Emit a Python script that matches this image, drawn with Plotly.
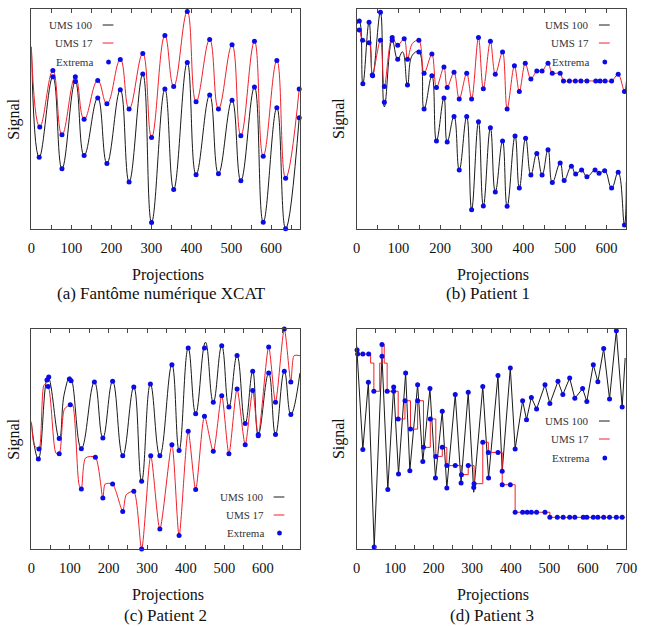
import plotly.graph_objects as go

W, H = 651, 626
FONT = "Liberation Serif, DejaVu Serif, serif"
BLACK = "#1a1a1a"
RED = "#f0202a"
BLUE = "#0b0be6"
AXIS = "#444444"

# ---------------- Panel (a) Fantôme numérique XCAT ----------------
A_BLACK_X = [0, 19.6, 53.8, 76.6, 110, 132, 166, 189, 222.5, 244.5, 278.7, 300.7, 334, 356, 390, 412, 446, 468, 502, 524, 558, 580, 614, 636, 670]
A_BLACK_Y = [82.8, 32.6, 69.2, 27.4, 67.1, 33.4, 59.6, 29.8, 63.3, 21.4, 70.4, 3.0, 63.6, 18.0, 75.7, 24.7, 60.9, 25.1, 58.5, 21.9, 64.5, 3.1, 55.1, 0.1, 50.6]
A_RED_X = [0, 21, 53.8, 76.6, 110, 132, 166, 189, 222.5, 244.5, 278.7, 300.7, 334, 356, 390, 412, 446, 468, 502, 524, 558, 580, 614, 636, 670]
A_RED_Y = [82.8, 46.4, 72.0, 42.8, 69.2, 49.9, 67.5, 56.9, 77.1, 54.6, 79.8, 41.6, 88.0, 64.8, 98.9, 57.8, 86.1, 54.6, 83.7, 42.4, 85.3, 33.1, 76.6, 23.1, 63.6]
A_EXT_X = [19.6, 53.8, 76.6, 110, 132, 166, 189, 222.5, 244.5, 278.7, 300.7, 334, 356, 390, 412, 446, 468, 502, 524, 558, 580, 614, 636, 670,
           21, 53.8, 76.6, 110, 132, 166, 189, 222.5, 244.5, 278.7, 300.7, 334, 356, 390, 412, 446, 468, 502, 524, 558, 580, 614, 636, 670]
A_EXT_Y = [32.6, 69.2, 27.4, 67.1, 33.4, 59.6, 29.8, 63.3, 21.4, 70.4, 3.0, 63.6, 18.0, 75.7, 24.7, 60.9, 25.1, 58.5, 21.9, 64.5, 3.1, 55.1, 0.1, 50.6,
           46.4, 72.0, 42.8, 69.2, 49.9, 67.5, 56.9, 77.1, 54.6, 79.8, 41.6, 88.0, 64.8, 98.9, 57.8, 86.1, 54.6, 83.7, 42.4, 85.3, 33.1, 76.6, 23.1, 63.6]

# ---------------- Panel (b) Patient 1 ----------------
B_BLACK_X = [0, 6.3, 14.8, 29.7, 38.3, 57, 66.4, 85.2, 98.4, 110, 121.9, 133.6, 149.2, 161.7, 180.5, 191.4, 209.4, 217.2, 233.6, 246.1,
             264, 275.8, 292.2, 303.9, 320.8, 332.6, 350, 361, 380, 390.3, 405.3, 418, 432.2, 444.9, 459.1, 469.4, 488.3, 497.8, 515.2, 525.5,
             539.7, 552.4, 572, 581.6, 595, 611.7, 627.5, 642.5, 647]
B_BLACK_Y = [93, 94.5, 66.0, 94.0, 69.7, 98.5, 55.5, 85.8, 77.2, 80.5, 65.5, 79.0, 80.5, 54.6, 69.7, 40.0, 59.5, 39.6, 51.1, 26.8,
             51.1, 8.8, 48.7, 10.5, 46.0, 16.8, 40.0, 10.3, 42.3, 18.6, 41.2, 24.6, 34.3, 24.6, 36.0, 21.1, 30.0, 22.0, 28.5, 25.0,
             26.8, 23.8, 26.8, 25.3, 26.5, 18.6, 25.8, 1.8, 21.3]
B_RED_X = [0, 6.3, 14.1, 29.7, 37.5, 57, 66.4, 85.2, 98.4, 114, 121.9, 133.6, 149.2, 161.7, 180.5, 191.4, 209.4, 217.2, 233.6, 246.1,
           264, 275.8, 292.2, 303.9, 320.8, 332.6, 350, 361, 378.5, 390.3, 404.5, 418, 432.2, 444.9, 459.1, 469.4, 488.3, 496.2, 510.5, 524.7,
           538, 552.4, 573.7, 584, 596, 611.7, 627.5, 642.5, 647]
B_RED_Y = [91, 90.4, 85.8, 84.7, 70.0, 85.8, 64.8, 87.0, 83.5, 86.5, 77.2, 84.3, 85.8, 70.8, 79.5, 64.3, 73.6, 64.3, 71.2, 59.1,
           70.8, 59.1, 87.0, 63.7, 85.3, 70.3, 80.5, 54.6, 74.2, 62.5, 75.3, 68.2, 71.8, 71.8, 75.3, 70.8, 70.8, 67.3, 67.3, 67.3,
           67.3, 67.3, 67.3, 67.3, 67.3, 67.3, 70.3, 62.5, 67.0]
B_EXT_X = [6.3, 14.8, 29.7, 38.3, 57, 66.4, 85.2, 98.4, 121.9, 149.2, 161.7, 180.5, 191.4, 209.4, 217.2, 233.6, 246.1, 264, 275.8, 292.2,
           303.9, 320.8, 332.6, 350, 361, 380, 390.3, 405.3, 418, 432.2, 444.9, 459.1, 469.4, 488.3, 497.8, 515.2, 525.5, 539.7, 552.4, 572,
           581.6, 595, 611.7, 627.5, 642.5,
           6.3, 14.1, 29.7, 37.5, 57, 66.4, 85.2, 98.4, 114, 121.9, 149.2, 161.7, 180.5, 191.4, 209.4, 217.2, 233.6, 246.1, 264, 275.8,
           292.2, 303.9, 320.8, 332.6, 350, 361, 378.5, 390.3, 404.5, 418, 432.2, 444.9, 459.1, 469.4, 488.3, 496.2, 510.5, 524.7, 538, 552.4,
           573.7, 584, 596, 611.7, 627.5, 642.5]
B_EXT_Y = [94.5, 66.0, 94.0, 69.7, 98.5, 57.6, 85.8, 77.2, 65.5, 80.5, 54.6, 69.7, 40.0, 59.5, 39.6, 51.1, 26.8, 51.1, 8.8, 48.7,
           10.5, 46.0, 16.8, 40.0, 10.3, 42.3, 18.6, 41.2, 24.6, 34.3, 24.6, 36.0, 21.1, 30.0, 22.0, 28.5, 25.0, 26.8, 23.8, 26.8,
           25.3, 26.5, 18.6, 25.8, 1.8,
           90.4, 85.8, 84.7, 70.0, 85.8, 64.8, 87.0, 83.5, 86.5, 77.2, 85.8, 70.8, 79.5, 64.3, 73.6, 64.3, 71.2, 59.1, 70.8, 59.1,
           87.0, 63.7, 85.3, 70.3, 80.5, 54.6, 74.2, 62.5, 75.3, 68.2, 71.8, 71.8, 75.3, 70.8, 70.8, 67.3, 67.3, 67.3, 67.3, 67.3,
           67.3, 67.3, 67.3, 67.3, 70.3, 62.5]

# ---------------- Panel (c) Patient 2 ----------------
C_BLACK_X = [0, 18.1, 43, 72.2, 85.7, 100.8, 129.5, 163.3, 185.2, 210.5, 236.7, 265.4, 285.7, 308.4, 332.9, 364.1, 382.7, 406.3, 425.7, 451,
             471.3, 493.2, 511.8, 532.9, 554, 573.4, 587.8, 614.8, 632.5, 655.3, 672.2, 695.8]
C_BLACK_Y = [57.3, 40.9, 78.2, 50.2, 70.9, 78.2, 45.6, 75.9, 50.5, 76.2, 42.4, 73.6, 30.8, 75.0, 42.4, 83.8, 44.8, 91.4, 61.5, 94.0,
             66.7, 92.4, 64.5, 87.9, 57.0, 80.8, 52.0, 80.0, 52.0, 80.8, 61.1, 80.0]
C_RED_X = [0, 8, 19.8, 33.3, 43.5, 63.7, 72.2, 85.7, 100.8, 106.8, 123.6, 129.5, 140.5, 165.8, 185.2, 191.1, 210.5, 236.7, 246, 265.4,
           285.7, 309.3, 332.9, 364.1, 382.7, 406.3, 425.7, 448.5, 471.3, 493.2, 511.8, 532.9, 554, 573.4, 587.8, 614.8, 632.5, 655.3, 672.2, 680.7,
           695.8]
C_RED_Y = [58.0, 47.0, 45.5, 74.7, 73.9, 43.6, 43.3, 63.6, 65.6, 65.6, 29.2, 27.3, 41.4, 41.7, 23.2, 29.5, 29.5, 17.1, 24.7, 26.2,
           0, 42.4, 9.1, 47.4, 6.1, 53.5, 27.0, 60.3, 44.4, 69.7, 43.3, 72.7, 47.4, 72.0, 51.5, 91.8, 66.7, 100, 75.9, 87.9,
           87.9]
C_EXT_X = [18.1, 40.5, 45, 72.2, 98.5, 103, 129.5, 163.3, 185.2, 210.5, 236.7, 265.4, 285.7, 308.4, 332.9, 364.1, 382.7, 406.3, 425.7, 448.5,
           471.3, 493.2, 511.8, 532.9, 554, 573.4, 587.8, 614.8, 632.5, 655.3, 672.2,
           19.8, 43.5, 72.2, 100.8, 129.5, 165.8, 185.2, 210.5, 236.7, 265.4, 285.7, 309.3, 332.9, 364.1, 382.7, 406.3, 425.7, 448.5, 471.3, 493.2,
           511.8, 532.9, 554, 573.4, 587.8, 614.8, 632.5, 655.3, 672.2]
C_EXT_Y = [40.9, 76.8, 78.2, 50.2, 77.3, 76.5, 45.6, 75.9, 50.5, 76.2, 42.4, 73.6, 30.8, 75.0, 42.4, 83.8, 44.8, 91.4, 61.5, 91.4,
           66.7, 92.4, 64.5, 87.9, 57.0, 80.8, 52.0, 80.0, 52.0, 80.8, 61.1,
           45.5, 73.9, 43.3, 65.6, 27.3, 41.7, 23.2, 29.5, 17.1, 26.2, 0, 42.4, 9.1, 47.4, 6.1, 53.5, 27.0, 60.3, 44.4, 69.7,
           43.3, 72.7, 47.4, 72.0, 51.5, 91.8, 66.7, 100, 75.9]

# ---------------- Panel (d) Patient 3 ----------------
D_BLACK_X = [0, 16, 30.3, 45.5, 65.7, 80.8, 96, 108.6, 127.1, 138, 158.2, 171.7, 190.2, 204.5, 222.2, 234, 255.9, 271, 289.6, 303.9,
             327.4, 342.4, 366.8, 377.8, 398.8, 411.4, 430.8, 440.9, 453.5, 467, 488.9, 501.5, 522.6, 535.2, 552.9, 566.3, 586.5, 597.5, 614.3, 626.1,
             641.2, 656.4, 674.1, 689.2, 697]
D_BLACK_Y = [92.4, 45.2, 75.8, 0.9, 87.6, 27.0, 73.9, 34.1, 80.0, 35.6, 74.7, 39.8, 72.9, 32.3, 62.6, 27.7, 70.2, 30.0, 71.2, 25.8,
             73.9, 32.3, 78.9, 35.3, 82.3, 45.5, 67.4, 58.8, 68.9, 63.6, 74.7, 66.1, 76.2, 70.2, 77.7, 68.5, 72.9, 67.1, 83.8, 76.0,
             91.1, 68.2, 99.2, 64.5, 86.8]
D_RED_X = [0, 2.5, 16, 31.1, 36.2, 44.6, 51.3, 59.8, 65.7, 71.5, 79.1, 96, 107.7, 125.4, 139.7, 158.2, 173.4, 191.1, 205.4, 222.2,
           234, 255.9, 271.9, 289.6, 304.7, 327.4, 341.8, 366.8, 377.8, 398.8, 411.4, 430.8, 442.6, 453.5, 467, 488.9, 501.5, 520.9, 536, 552.9,
           566.3, 588.2, 597.5, 614.3, 626.1, 641.2, 656.4, 674.1, 689.2, 697]
D_RED_Y = [89.4, 88.6, 88.6, 88.6, 84.5, 71.7, 71.7, 84.5, 92.9, 84.5, 71.7, 71.7, 59.1, 67.4, 54.5, 67.4, 46.2, 59.1, 42.1, 46.2,
           37.9, 37.9, 33.8, 37.9, 29.7, 48.5, 43.9, 43.9, 29.2, 29.2, 16.7, 16.7, 16.7, 16.7, 16.7, 16.7, 14.4, 14.4, 14.4, 14.4,
           14.4, 14.4, 14.4, 14.4, 14.4, 14.4, 14.4, 14.4, 14.4, 14.4]
D_EXT_X = [1, 16, 30.3, 45.5, 65.7, 80.8, 96, 108.6, 127.1, 138, 158.2, 171.7, 190.2, 204.5, 222.2, 234, 255.9, 271, 289.6, 303.9,
           327.4, 342.4, 366.8, 377.8, 398.8, 411.4, 430.8, 440.9, 453.5, 467, 488.9, 501.5, 522.6, 535.2, 552.9, 566.3, 586.5, 597.5, 614.3, 626.1,
           641.2, 656.4, 674.1, 689.2,
           2.5, 16, 31.1, 44.6, 65.7, 79.1, 96, 107.7, 125.4, 139.7, 158.2, 173.4, 191.1, 205.4, 222.2, 234, 255.9, 271.9, 289.6, 304.7,
           327.4, 341.8, 366.8, 377.8, 398.8, 411.4, 430.8, 442.6, 453.5, 467, 488.9, 501.5, 520.9, 536, 552.9, 566.3, 588.2, 597.5, 614.3, 626.1,
           641.2, 656.4, 674.1, 689.2]
D_EXT_Y = [90.5, 45.2, 75.8, 0.9, 87.6, 27.0, 73.6, 34.1, 80.0, 35.6, 74.7, 39.8, 72.9, 32.3, 62.6, 27.7, 70.2, 30.0, 71.2, 28.0,
           73.9, 32.3, 78.9, 35.3, 82.3, 45.5, 67.4, 58.8, 68.9, 63.6, 74.7, 66.1, 76.2, 70.2, 77.7, 68.5, 72.9, 67.1, 83.8, 76.0,
           91.1, 68.2, 99.2, 64.5,
           88.6, 88.6, 88.6, 71.7, 92.9, 71.7, 71.7, 59.1, 67.4, 54.5, 67.4, 46.2, 59.1, 42.1, 46.2, 37.9, 37.9, 33.8, 37.9, 29.7,
           48.5, 43.9, 43.9, 29.2, 29.2, 16.7, 16.7, 16.7, 16.7, 16.7, 16.7, 14.4, 14.4, 14.4, 14.4, 14.4, 14.4, 14.4, 14.4, 14.4,
           14.4, 14.4, 14.4, 14.4]

CAPTIONS = ["(a) Fantôme numérique XCAT", "(b) Patient 1", "(c) Patient 2", "(d) Patient 3"]
LEGEND_LABELS = ["UMS 100", "UMS 17", "Extrema"]
X_TITLE = "Projections"
Y_TITLE = "Signal"

panels = [
    dict(bx=A_BLACK_X, by=A_BLACK_Y, rx=A_RED_X, ry=A_RED_Y, ex=A_EXT_X, ey=A_EXT_Y,
         bshape="spline", rshape="spline", rsmooth=1.3, xmax=672, tickmax=650,
         box=(28, 303, 9, 229), leg=(93, [25, 43, 62]), cap=(161, 293)),
    dict(bx=B_BLACK_X, by=B_BLACK_Y, rx=B_RED_X, ry=B_RED_Y, ex=B_EXT_X, ey=B_EXT_Y,
         bshape="spline", rshape="spline", rsmooth=1.0, xmax=647, tickmax=600,
         box=(361, 637, 9, 229), leg=(601, [25, 43, 62]), cap=(495, 293)),
    dict(bx=C_BLACK_X, by=C_BLACK_Y, rx=C_RED_X, ry=C_RED_Y, ex=C_EXT_X, ey=C_EXT_Y,
         bshape="spline", rshape="spline", rsmooth=0.7, xmax=696, tickmax=650,
         box=(28, 303, 329, 549), leg=(268, [497, 515, 533]), cap=(165, 615)),
    dict(bx=D_BLACK_X, by=D_BLACK_Y, rx=D_RED_X, ry=D_RED_Y, ex=D_EXT_X, ey=D_EXT_Y,
         bshape="linear", rshape="hv", rsmooth=None, xmax=700, tickmax=700,
         box=(361, 637, 329, 549), leg=(601, [421, 439, 458]), cap=(499, 615)),
]


def px(xp):
    return xp / W


def py(yp):
    return 1 - yp / H


def line_style(color, shape, smooth=1.3):
    d = dict(color=color, width=1, shape=shape)
    if shape == "spline":
        d["smoothing"] = smooth
    return d


fig = go.Figure()
annotations = []
shapes = []
layout_axes = {}

for i, p in enumerate(panels):
    n = "" if i == 0 else str(i + 1)
    xa, ya = "x" + n, "y" + n
    fig.add_trace(go.Scatter(x=p["bx"], y=p["by"], mode="lines", xaxis=xa, yaxis=ya,
                             line=line_style(BLACK, p["bshape"]), name=LEGEND_LABELS[0]))
    fig.add_trace(go.Scatter(x=p["rx"], y=p["ry"], mode="lines", xaxis=xa, yaxis=ya,
                             line=line_style(RED, p["rshape"], p["rsmooth"]), name=LEGEND_LABELS[1]))
    fig.add_trace(go.Scatter(x=p["ex"], y=p["ey"], mode="markers", xaxis=xa, yaxis=ya, cliponaxis=False,
                             marker=dict(color=BLUE, size=5, line=dict(width=0)), name=LEGEND_LABELS[2]))
    x0, x1, y0, y1 = p["box"]
    tv = list(range(0, p["tickmax"] + 1, 50))
    tt = [str(v) if v % 100 == 0 else "" for v in tv]
    layout_axes["xaxis" + n] = dict(
        domain=[px(x0), px(x1)], range=[0, p["xmax"]], anchor=ya,
        tickvals=tv, ticktext=tt, ticks="inside", ticklen=4, tickwidth=1, tickcolor=AXIS,
        showline=True, linecolor=AXIS, linewidth=1, mirror="ticks",
        showgrid=False, zeroline=False, ticklabelstandoff=6,
        tickfont=dict(family=FONT, size=14.5, color="#111"))
    layout_axes["yaxis" + n] = dict(
        domain=[py(y1), py(y0)], range=[0, 100], anchor=xa,
        showticklabels=False, ticks="", showline=True, linecolor=AXIS, linewidth=1, mirror=True,
        showgrid=False, zeroline=False)
    cx = (x0 + x1) / 2
    annotations.append(dict(text=X_TITLE, x=px(cx + 2), y=py(y1 + 46), xref="paper", yref="paper",
                            showarrow=False, xanchor="center", yanchor="middle",
                            font=dict(family=FONT, size=16, color="#111")))
    annotations.append(dict(text=Y_TITLE, x=px(x0 - 18), y=py((y0 + y1) / 2), xref="paper", yref="paper",
                            showarrow=False, xanchor="center", yanchor="middle", textangle=-90,
                            font=dict(family=FONT, size=16, color="#111")))
    annotations.append(dict(text=CAPTIONS[i], x=px(p["cap"][0]), y=py(p["cap"][1]), xref="paper", yref="paper",
                            showarrow=False, xanchor="center", yanchor="middle",
                            font=dict(family=FONT, size=17, color="#111")))
    lx, rows = p["leg"]
    for lab, ry_, kind in zip(LEGEND_LABELS, rows, ["black", "red", "dot"]):
        annotations.append(dict(text=lab, x=px(lx), y=py(ry_), xref="paper", yref="paper",
                                showarrow=False, xanchor="right", yanchor="middle",
                                font=dict(family=FONT, size=11, color="#333")))
        if kind == "dot":
            shapes.append(dict(type="circle", xref="paper", yref="paper",
                               x0=px(lx + 11.5), x1=px(lx + 16.5), y0=py(ry_ + 2.5), y1=py(ry_ - 2.5),
                               fillcolor=BLUE, line=dict(width=0)))
        else:
            shapes.append(dict(type="line", xref="paper", yref="paper",
                               x0=px(lx + 8), x1=px(lx + 19), y0=py(ry_), y1=py(ry_),
                               line=dict(color=BLACK if kind == "black" else RED, width=1)))

fig.update_layout(
    width=W, height=H, margin=dict(l=0, r=0, t=0, b=0),
    paper_bgcolor="white", plot_bgcolor="white", showlegend=False,
    annotations=annotations, shapes=shapes, **layout_axes)

fig.write_html("out.html")
